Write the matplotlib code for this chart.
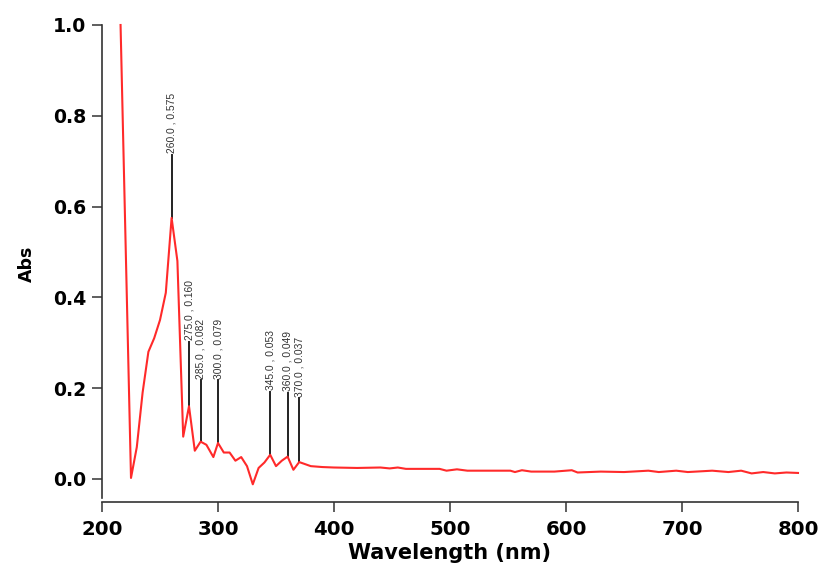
import matplotlib
matplotlib.use("Agg")
import matplotlib.pyplot as plt

wavelength = [216, 225, 230, 235, 240, 245, 250, 255, 260, 265, 270, 275, 280, 285, 290,
              296, 300, 305, 310, 315, 320, 325, 330, 335, 340, 345, 350, 355, 360, 365,
              370, 380, 390, 400, 420, 440, 448, 455, 462, 480, 491, 497, 506, 515, 530,
              552, 556, 562, 570, 590, 605, 610, 630, 650, 671, 680, 695, 705, 726, 740,
              751, 760, 770, 780, 790, 800]
absorbance = [1.0, 0.002, 0.07, 0.19, 0.28, 0.31, 0.35, 0.41, 0.575, 0.48, 0.093, 0.160,
              0.062, 0.082, 0.075, 0.048, 0.079, 0.058, 0.058, 0.040, 0.048, 0.028, -0.012,
              0.024, 0.036, 0.053, 0.028, 0.040, 0.049, 0.020, 0.037, 0.028, 0.026, 0.025,
              0.024, 0.025, 0.023, 0.025, 0.022, 0.022, 0.022, 0.018, 0.021, 0.018, 0.018,
              0.018, 0.015, 0.019, 0.016, 0.016, 0.019, 0.014, 0.016, 0.015, 0.018, 0.015,
              0.018, 0.015, 0.018, 0.015, 0.018, 0.012, 0.015, 0.012, 0.014, 0.013]

peak_wl = [260.0, 275.0, 285.0, 300.0, 345.0, 360.0, 370.0]
peak_abs = [0.575, 0.160, 0.082, 0.079, 0.053, 0.049, 0.037]
peak_label_top = [0.714, 0.302, 0.218, 0.218, 0.192, 0.190, 0.178]

x_ticks = [200, 300, 400, 500, 600, 700, 800]
y_ticks = [0.0, 0.2, 0.4, 0.6, 0.8, 1.0]

plt.rcParams['font.family'] = ['DejaVu Sans']

fig = plt.figure(figsize=(8.22, 5.66), dpi=100)
ax = fig.add_axes([102/822, 1 - 502/566, (798-102)/822, (502-25)/566])

ax.plot(wavelength, absorbance, color='#ff2a2a', lw=1.5, clip_on=False, zorder=3)

for w, a, t in zip(peak_wl, peak_abs, peak_label_top):
    ax.plot([w, w], [a, t], color='#222222', lw=1.4, zorder=2)
    ax.text(w, t + 0.003, f"{w:.1f} , {a:.3f}", rotation=90, ha='center', va='bottom',
            fontsize=7.4, color='#333333', family=['Liberation Sans Narrow', 'Liberation Sans'])

ax.set_xlim(200, 800)
ax.set_ylim(-0.051, 1.0)
ax.set_xticks(x_ticks)
ax.set_yticks(y_ticks)
ax.set_xticklabels([str(v) for v in x_ticks], fontweight='bold', fontsize=14.2)
ax.set_yticklabels([f"{v:.1f}" for v in y_ticks], fontweight='bold', fontsize=13.6)
ax.set_xlabel('Wavelength (nm)', fontweight='bold', fontsize=15, labelpad=3)
ax.set_ylabel('Abs', fontweight='bold', fontsize=12.5, labelpad=12)

for s in ['top', 'right']:
    ax.spines[s].set_visible(False)
for s in ['left', 'bottom']:
    ax.spines[s].set_color('#333333')
    ax.spines[s].set_linewidth(1.2)
ax.spines['left'].set_bounds(-0.042, 1.0)
ax.tick_params(axis='both', direction='out', length=7, width=1.1, color='#333333')
ax.tick_params(axis='y', pad=4.5)
ax.tick_params(axis='x', pad=6)

fig.savefig('out.png', dpi=100)
